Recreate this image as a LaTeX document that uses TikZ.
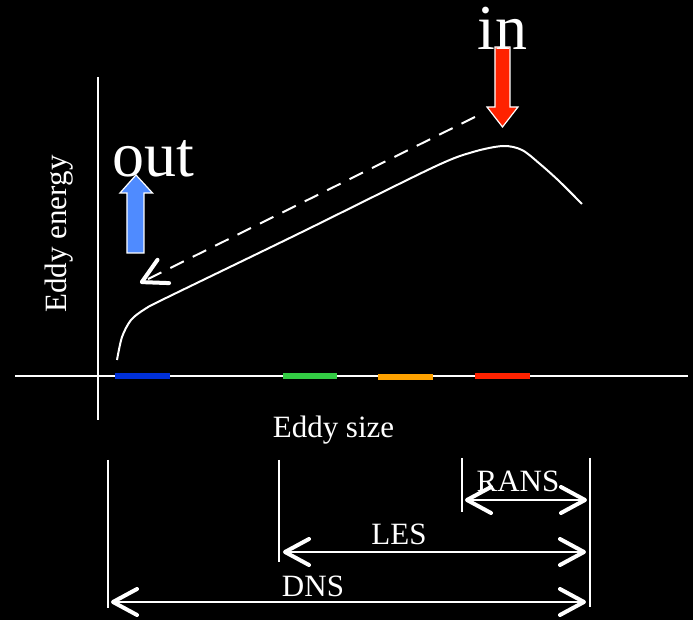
\documentclass[tikz,border=0pt]{standalone}
\usepackage{fontspec}
\setmainfont{Liberation Serif}
\usetikzlibrary{arrows.meta, positioning}
\definecolor{bandblue}{HTML}{0030D8}
\definecolor{bandgreen}{HTML}{33CC44}
\definecolor{bandorange}{HTML}{FFA200}
\definecolor{bandred}{HTML}{FF2200}
\definecolor{outblue}{HTML}{4F8BFF}
\tikzset{
  barb/.tip={Straight Barb[length=12pt, width=13pt, line width'=2pt, round]},
  lbl/.style={anchor=base, text=white, inner sep=0pt, font=\fontsize{15.5}{18}\selectfont},
  biglbl/.style={anchor=base, text=white, inner sep=0pt, font=\fontsize{32}{36}\selectfont},
  axisline/.style={draw=white, line width=1pt},
  spanline/.style={draw=white, line width=1pt, barb-barb},
  band/.style={line width=3pt},
  blockarrow/.style={draw=white, line width=0.6pt},
}

\begin{document}
\begin{tikzpicture}[x=0.5pt, y=-0.5pt]
        % Background
        \fill[black] (0,0) rectangle (693,620);
        % Axes
        \draw[axisline] (98,77) -- (98,420);
        \draw[axisline] (15,376) -- (688,376);
        % Scale bands on the size axis
        \draw[band, bandblue] (115,376) -- (170,376);
        \draw[band, bandgreen] (283,376.5) -- (337,376.5);
        \draw[band, bandorange] (378,377.5) -- (433,377.5);
        \draw[band, bandred] (475,376) -- (530,376);
        % Energy spectrum
        \draw[white, line width=1pt] plot[smooth, tension=0.5] coordinates {
          (117,360) (122,337) (131,320) (145,309) (166,298) (300,233)
          (434,167) (473,152) (503,146) (522,150) (540,164) (559,181) (582,204)};
        % Axis labels
        \node[lbl] (sizelabel) at (333.5,438) {Eddy size};
        \node[lbl, rotate=90] (energylabel) at (67,234) {Eddy energy};
        % Energy in
        \fill[bandred] (495,47) -- (510,47) -- (510,107) -- (518,107) -- (502.5,127)
          -- (487,107) -- (495,107) -- cycle;
        \draw[blockarrow] (495,47) -- (510,47) -- (510,107) -- (518,107) -- (502.5,127)
          -- (487,107) -- (495,107) -- cycle;
        \node[biglbl] (inlabel) at (502.5,50) {in};
        % Energy out
        \fill[outblue] (127,253) -- (144,253) -- (144,193) -- (152.5,193) -- (136,175)
          -- (120,193) -- (127,193) -- cycle;
        \draw[blockarrow] (127,253) -- (144,253) -- (144,193) -- (152.5,193) -- (136,175)
          -- (120,193) -- (127,193) -- cycle;
        \node[biglbl] (outlabel) at (153,177) {out};
        % Cascade
        \coordinate (cascadetop) at (475,117);
        \coordinate (cascadebot) at (140,283);
        \draw[white, line width=1pt, dash pattern=on 7.5pt off 5pt, -barb] (cascadetop) -- (cascadebot);
        % Resolved ranges
        \draw[axisline] (108,460) -- (108,608);
        \draw[axisline] (279,460) -- (279,562);
        \draw[axisline] (462,458) -- (462,512);
        \draw[axisline] (590,458) -- (590,607);
        \coordinate (ransL) at (465,500);
        \coordinate (ransR) at (587,500);
        \coordinate (lesL) at (283,552);
        \coordinate (lesR) at (586,552);
        \coordinate (dnsL) at (111,602);
        \coordinate (dnsR) at (586,602);
        \draw[spanline] (ransL) -- (ransR);
        \draw[spanline] (lesL) -- (lesR);
        \draw[spanline] (dnsL) -- (dnsR);
        \node[lbl] (ranslabel) at (518,492) {RANS};
        \node[lbl] (leslabel) at (399,545) {LES};
        \node[lbl] (dnslabel) at (313,597) {DNS};
\end{tikzpicture}
\end{document}
